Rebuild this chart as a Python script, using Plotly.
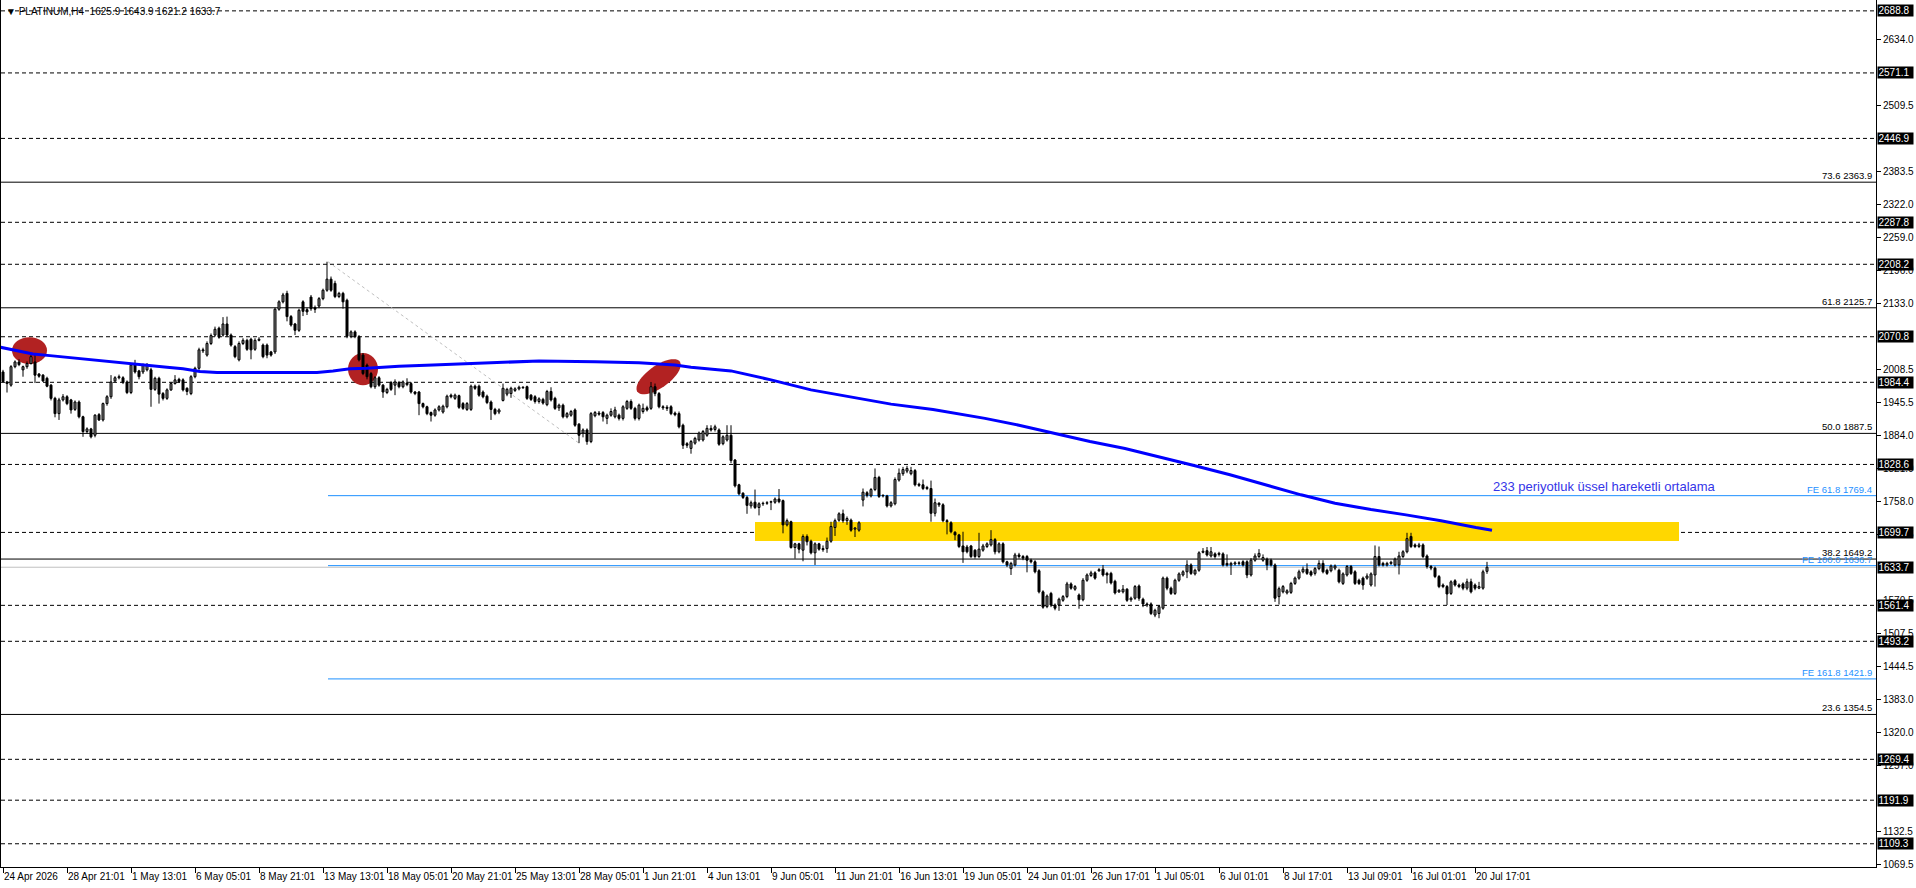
import numpy as np
import plotly.graph_objects as go

# ---------------- data ----------------
symbol = "PLATINUM,H4"
opens = [
2004,1985,1979,2014,2023,2008,2014,2020,2023,2000,1998,1992,1979,1954,1925,1951,1957,1951,1933,1947,
1919,1891,1896,1884,1923,1913,1944,1957,1987,1993,1993,1985,1965,2018,2006,2004,2008,2008,1971,1992,
1963,1954,1970,1982,1990,1989,1973,1963,1995,2011,2046,2036,2058,2074,2087,2074,2095,2074,2052,2027,
2058,2064,2066,2047,2064,2055,2055,2042,2042,2123,2137,2153,2109,2095,2083,2137,2122,2146,2126,2129,
2143,2159,2180,2172,2147,2153,2140,2071,2080,2071,2036,2017,2001,1976,1993,1979,1965,1984,1979,1984,
1976,1983,1982,1966,1966,1944,1938,1927,1922,1932,1928,1938,1960,1954,1959,1944,1933,1933,1977,1977,
1966,1958,1947,1933,1928,1950,1962,1963,1969,1972,1975,1976,1960,1957,1948,1952,1942,1967,1954,1936,
1941,1919,1922,1932,1905,1888,1894,1872,1921,1926,1927,1916,1922,1919,1922,1916,1935,1948,1935,1916,
1929,1936,1935,1976,1963,1938,1937,1938,1926,1925,1903,1868,1859,1869,1875,1875,1884,1897,1895,1894,
1868,1875,1884,1837,1790,1774,1766,1750,1757,1747,1754,1755,1757,1757,1763,1760,1714,1720,1671,1678,
1666,1692,1683,1661,1678,1669,1669,1683,1709,1723,1735,1722,1723,1706,1704,1761,1775,1769,1781,1804,
1770,1769,1750,1754,1799,1811,1816,1811,1817,1791,1790,1785,1783,1736,1755,1752,1722,1718,1700,1695,
1674,1672,1674,1666,1654,1666,1673,1676,1686,1663,1678,1644,1631,1638,1657,1654,1654,1647,1644,1627,
1587,1559,1584,1562,1562,1571,1578,1602,1592,1581,1572,1609,1618,1623,1627,1630,1622,1622,1607,1587,
1587,1592,1572,1575,1598,1573,1564,1564,1543,1546,1556,1613,1594,1584,1609,1619,1625,1638,1621,1628,
1662,1665,1655,1659,1658,1659,1641,1638,1640,1641,1644,1644,1619,1647,1654,1647,1649,1647,1638,1578,
1587,1585,1586,1603,1613,1625,1630,1625,1622,1631,1641,1628,1627,1632,1628,1603,1619,1635,1625,1609,
1613,1613,1600,1619,1654,1641,1638,1641,1638,1638,1654,1663,1692,1676,1673,1676,1655,1635,1632,1616,
1600,1597,1584,1608,1600,1602,1594,1606,1600,1594,1594,1625.9]
highs = [
2008,1987,2017,2026,2028,2016,2024,2037,2040,2002,2000,1995,1981,1957,1955,1962,1960,1953,1950,1950,
1921,1899,1898,1924,1926,1946,1960,1998,1996,1999,1996,1988,2019,2027,2008,2020,2021,2012,1995,1995,
1966,1973,1985,1998,1993,1992,1975,1998,2014,2050,2050,2062,2077,2090,2090,2108,2109,2077,2055,2062,
2068,2067,2069,2068,2070,2058,2058,2044,2126,2140,2154,2158,2112,2097,2124,2140,2126,2150,2130,2146,
2162,2213,2185,2177,2156,2156,2143,2083,2083,2074,2040,2020,2004,1996,1996,1981,1974,1987,1990,1987,
1988,1992,1985,1968,1968,1946,1940,1929,1935,1941,1942,1961,1963,1963,1961,1947,1947,1980,1980,1980,
1969,1961,1950,1936,1935,1982,1974,1976,1975,1978,1977,1978,1962,1960,1956,1955,1970,1975,1957,1944,
1944,1928,1932,1935,1907,1897,1897,1928,1930,1930,1930,1925,1935,1938,1925,1941,1951,1952,1938,1944,
1944,1940,1985,1982,1966,1941,1941,1941,1929,1929,1906,1871,1875,1881,1891,1894,1903,1903,1904,1897,
1884,1903,1903,1839,1792,1776,1769,1760,1781,1757,1758,1759,1760,1766,1782,1762,1726,1722,1680,1680,
1696,1696,1686,1681,1680,1675,1690,1720,1726,1738,1743,1730,1726,1710,1721,1783,1778,1784,1821,1807,
1772,1771,1759,1804,1821,1824,1826,1824,1820,1794,1800,1788,1798,1764,1757,1755,1725,1721,1702,1697,
1701,1676,1676,1668,1699,1678,1681,1704,1689,1681,1681,1646,1644,1661,1661,1657,1657,1650,1647,1630,
1590,1582,1587,1565,1576,1581,1606,1605,1600,1584,1613,1622,1627,1626,1632,1638,1625,1625,1610,1592,
1600,1594,1578,1600,1601,1576,1567,1567,1555,1562,1616,1616,1597,1612,1624,1628,1647,1641,1631,1664,
1670,1672,1672,1662,1663,1662,1658,1644,1645,1645,1647,1647,1651,1660,1668,1658,1652,1650,1641,1597,
1600,1592,1606,1616,1629,1635,1641,1628,1634,1647,1647,1631,1639,1639,1631,1624,1638,1638,1628,1612,
1616,1622,1624,1675,1673,1644,1644,1646,1652,1663,1666,1699,1699,1679,1680,1679,1658,1638,1635,1619,
1603,1600,1609,1611,1603,1605,1612,1612,1603,1606,1629,1643.9]
lows = [
1984,1965,1976,2011,2015,1995,2010,2018,1983,1993,1985,1975,1950,1918,1913,1948,1941,1925,1930,1916,
1881,1887,1878,1880,1911,1910,1940,1953,1984,1990,1981,1962,1962,2001,1990,2000,2005,1938,1968,1944,
1950,1951,1968,1980,1983,1967,1960,1960,1992,2008,2040,2033,2055,2071,2067,2071,2070,2052,2030,2024,
2055,2044,2028,2044,2062,2030,2030,2033,2038,2120,2134,2100,2090,2074,2080,2110,2112,2120,2116,2125,
2140,2156,2156,2144,2144,2124,2068,2068,2068,2024,1998,1990,1973,1972,1976,1955,1962,1968,1960,1973,
1973,1977,1963,1960,1922,1935,1922,1910,1919,1929,1925,1935,1954,1951,1934,1932,1930,1930,1970,1957,
1954,1943,1913,1922,1924,1948,1958,1955,1966,1969,1972,1951,1949,1944,1944,1942,1939,1948,1932,1930,
1916,1916,1919,1900,1869,1880,1866,1869,1918,1921,1910,1905,1919,1916,1912,1912,1932,1932,1912,1912,
1925,1929,1932,1958,1935,1932,1930,1922,1920,1897,1858,1860,1849,1866,1872,1872,1881,1891,1891,1864,
1865,1872,1831,1785,1770,1763,1735,1745,1744,1732,1750,1752,1742,1754,1755,1698,1711,1669,1650,1660,
1645,1675,1658,1638,1665,1663,1661,1680,1693,1720,1718,1714,1701,1691,1701,1749,1766,1766,1778,1765,
1766,1747,1747,1751,1796,1807,1812,1808,1787,1786,1780,1780,1720,1730,1748,1719,1696,1698,1685,1670,
1642,1660,1651,1650,1651,1663,1670,1673,1658,1660,1641,1634,1619,1635,1650,1647,1624,1641,1622,1584,
1555,1556,1558,1552,1551,1568,1575,1591,1589,1555,1569,1606,1615,1610,1625,1616,1603,1601,1582,1585,
1584,1568,1568,1572,1570,1558,1558,1543,1539,1537,1553,1590,1581,1581,1606,1616,1613,1619,1618,1625,
1660,1654,1652,1650,1654,1635,1635,1619,1637,1637,1635,1613,1616,1644,1651,1644,1628,1635,1568,1563,
1584,1582,1583,1600,1610,1622,1619,1616,1618,1628,1622,1619,1624,1628,1603,1600,1616,1619,1600,1600,
1591,1610,1597,1597,1635,1635,1635,1638,1635,1620,1651,1660,1670,1670,1670,1651,1631,1628,1613,1594,
1594,1562,1581,1597,1594,1590,1590,1584,1590,1592,1591,1621.2]
closes = [
1986,1982,2014,2023,2018,2014,2020,2033,1998,1996,1987,1977,1954,1925,1951,1957,1944,1932,1947,1919,
1891,1896,1881,1922,1913,1944,1957,1985,1993,1995,1984,1965,2017,2004,1995,2017,2017,1971,1992,1962,
1954,1970,1982,1989,1986,1970,1967,1995,2011,2046,2044,2058,2073,2085,2070,2095,2074,2055,2033,2058,
2064,2047,2046,2064,2066,2033,2036,2036,2123,2137,2150,2109,2093,2083,2121,2119,2118,2124,2123,2143,
2159,2180,2159,2147,2153,2137,2072,2080,2071,2027,2001,1995,1976,1993,1979,1966,1971,1971,1985,1976,
1985,1980,1966,1963,1944,1938,1925,1922,1932,1938,1939,1958,1957,1960,1937,1935,1944,1977,1973,1960,
1957,1946,1933,1925,1932,1973,1971,1973,1972,1975,1974,1954,1952,1948,1953,1945,1967,1951,1935,1941,
1919,1925,1929,1903,1884,1894,1872,1925,1927,1924,1919,1922,1929,1932,1916,1938,1948,1935,1916,1941,
1935,1932,1976,1963,1938,1936,1935,1925,1923,1900,1865,1865,1872,1878,1888,1891,1897,1894,1900,1867,
1881,1884,1836,1788,1773,1766,1751,1756,1747,1754,1755,1756,1758,1763,1758,1714,1722,1671,1678,1668,
1692,1682,1661,1678,1668,1667,1683,1711,1722,1735,1722,1726,1704,1708,1718,1776,1770,1781,1804,1768,
1769,1750,1756,1800,1812,1819,1821,1817,1790,1789,1783,1783,1736,1756,1752,1722,1720,1701,1695,1673,
1663,1663,1654,1654,1668,1674,1678,1686,1663,1678,1644,1638,1641,1657,1654,1651,1647,1644,1625,1587,
1558,1579,1562,1556,1573,1578,1602,1594,1597,1572,1609,1619,1623,1613,1629,1619,1619,1604,1585,1590,
1592,1571,1575,1597,1575,1564,1562,1546,1552,1559,1613,1594,1584,1609,1621,1625,1638,1622,1628,1661,
1664,1657,1663,1654,1660,1638,1638,1641,1642,1642,1638,1619,1647,1655,1660,1652,1638,1638,1575,1593,
1597,1589,1603,1613,1625,1630,1622,1619,1631,1641,1625,1622,1636,1636,1606,1621,1635,1622,1603,1603,
1600,1617,1621,1654,1638,1638,1641,1643,1649,1655,1663,1688,1673,1673,1676,1654,1635,1632,1616,1597,
1597,1583,1606,1600,1597,1594,1606,1587,1594,1597,1625,1633.7]

date_labels = ["24 Apr 2026", "28 Apr 21:01", "1 May 13:01", "6 May 05:01", "8 May 21:01",
               "13 May 13:01", "18 May 05:01", "20 May 21:01", "25 May 13:01", "28 May 05:01",
               "1 Jun 21:01", "4 Jun 13:01", "9 Jun 05:01", "11 Jun 21:01", "16 Jun 13:01",
               "19 Jun 05:01", "24 Jun 01:01", "26 Jun 17:01", "1 Jul 05:01", "6 Jul 01:01",
               "8 Jul 17:01", "13 Jul 09:01", "16 Jul 01:01", "20 Jul 17:01"]
bars_per_label = 16

price_ticks = [2634.0, 2509.5, 2383.5, 2322.0, 2259.0, 2196.0, 2133.0, 2008.5, 1945.5, 1884.0,
               1821.0, 1758.0, 1696.5, 1570.5, 1507.5, 1444.5, 1383.0, 1320.0, 1257.0, 1132.5, 1069.5]
marked_prices = [2688.8, 2571.1, 2446.9, 2287.8, 2208.2, 2070.8, 1984.4, 1828.6, 1699.7,
                 1633.7, 1561.4, 1493.2, 1269.4, 1191.9, 1109.3]
dashed_levels = [2688.8, 2571.1, 2446.9, 2287.8, 2208.2, 2070.8, 1984.4, 1828.6, 1699.7,
                 1561.4, 1493.2, 1269.4, 1191.9, 1109.3]
fib_levels = [73.6, 61.8, 50.0, 38.2, 23.6]
fib_prices = [2363.9, 2125.7, 1887.5, 1649.2, 1354.5]
fe_levels = [61.8, 100.0, 161.8]
fe_prices = [1769.4, 1636.7, 1421.9]
fe_start_bar = 81.25
current_price = 1633.7

# 233-period EMA (bar index, price)
ema_bar = [-0.75, 3.5, 7.5, 11.75, 16, 20, 24.25, 28.5, 32.5, 36.75, 41, 45, 49.25, 53.5, 57.5,
           66, 74.25, 78.5, 82.5, 86.75, 91, 99, 107.5, 116, 125, 134, 148, 159, 168, 172, 182,
           192, 202, 212, 222, 232.5, 240, 245.5, 254, 263, 271.75, 280.5, 289.25, 298, 306.75,
           315.75, 324.5, 333, 342, 350.75, 359.5, 368.25, 372.25]
ema_val = [2051, 2044, 2038, 2035, 2032, 2028, 2025, 2022, 2019, 2016, 2013, 2010, 2005, 2003, 2003,
           2003, 2003, 2003, 2006, 2010, 2011, 2015, 2017, 2020, 2022.5, 2025, 2023.5, 2021.6, 2017,
           2013, 2006, 1989, 1970, 1956, 1943, 1933, 1924, 1916, 1903, 1888, 1872, 1859, 1843, 1826,
           1809, 1790, 1771, 1755, 1743, 1733, 1722, 1709, 1704]
ema_text = "233 periyotluk üssel hareketli ortalama"
ema_text_pos = (372.0, 1786.0)

zone_bars = (188.0, 419.0)
zone_prices = (1683.5, 1719.5)

trend_bars = (81.25, 144.0)
trend_prices = (2213.0, 1869.0)

ovals = [  # (bar0, bar1, price0, price1)
    (2.25, 11.0, 2019.0, 2070.0),
    (86.25, 93.75, 1979.0, 2040.0),
]
tilted_oval = dict(bar=163.9, price=1995.0, major_px=52, minor_px=22, angle_deg=35.5)

# ---------------- geometry of the frame ----------------
W, H = 1916, 888
ML, MR, MT, MB = 1, 40, 0, 21
PX_PER_BAR = 4.0
X_RANGE = [-0.5, -0.5 + (W - ML - MR) / PX_PER_BAR]
Y_RANGE = [1065.2, 2709.4]
px_per_price = (H - MT - MB) / (Y_RANGE[1] - Y_RANGE[0])

FONT = "Liberation Sans"
n = len(closes)
o = np.array(opens, float); h = np.array(highs, float)
l = np.array(lows, float); c = np.array(closes, float)
xi = np.arange(n)

fig = go.Figure()

# wicks
wx, wy = [], []
for i in range(n):
    wx += [i, i, None]
    wy += [l[i], h[i], None]
fig.add_trace(go.Scatter(x=wx, y=wy, mode="lines", line=dict(color="black", width=1),
                         hoverinfo="skip"))

up = c >= o
dn = ~up
fig.add_trace(go.Bar(x=xi[up], y=(c - o)[up], base=o[up], width=0.5,
                     marker=dict(color="white", line=dict(color="black", width=1)),
                     hoverinfo="skip"))
fig.add_trace(go.Bar(x=xi[dn], y=(o - c)[dn], base=c[dn], width=0.5,
                     marker=dict(color="black", line=dict(color="black", width=1)),
                     hoverinfo="skip"))

# EMA
fig.add_trace(go.Scatter(x=ema_bar, y=ema_val, mode="lines",
                         line=dict(color="#0000ff", width=3), hoverinfo="skip"))

shapes = []
# red ovals (behind)
for b0, b1, p0, p1 in ovals:
    shapes.append(dict(type="circle", xref="x", yref="y", x0=b0, x1=b1, y0=p0, y1=p1,
                       fillcolor="#b22222", line=dict(width=0), layer="below"))
t = np.linspace(0, 2 * np.pi, 48)
ang = np.deg2rad(tilted_oval["angle_deg"])
ex = tilted_oval["major_px"] / 2 * np.cos(t)
ey = tilted_oval["minor_px"] / 2 * np.sin(t)
rx = ex * np.cos(ang) - ey * np.sin(ang)
ry = ex * np.sin(ang) + ey * np.cos(ang)
bx = tilted_oval["bar"] + rx / PX_PER_BAR
by = tilted_oval["price"] + ry / px_per_price
path = "M " + " L ".join(f"{a:.3f},{b:.3f}" for a, b in zip(bx, by)) + " Z"
shapes.append(dict(type="path", xref="x", yref="y", path=path, fillcolor="#b22222",
                   line=dict(width=0), layer="below"))
# yellow zone
shapes.append(dict(type="rect", xref="x", yref="y", x0=zone_bars[0], x1=zone_bars[1],
                   y0=zone_prices[0], y1=zone_prices[1], fillcolor="#ffd700",
                   line=dict(width=0), layer="below"))
# current price line
shapes.append(dict(type="line", xref="paper", yref="y", x0=0, x1=1, y0=current_price,
                   y1=current_price, line=dict(color="#c0c0c0", width=1), layer="below"))
# dashed levels
for p in dashed_levels:
    shapes.append(dict(type="line", xref="paper", yref="y", x0=0, x1=1, y0=p, y1=p,
                       line=dict(color="black", width=1, dash="4px,3px"), layer="below"))
# fib retracement levels
for p in fib_prices:
    shapes.append(dict(type="line", xref="paper", yref="y", x0=0, x1=1, y0=p, y1=p,
                       line=dict(color="black", width=1), layer="below"))
# fib expansion levels
for p in fe_prices:
    shapes.append(dict(type="line", xref="x", yref="y", x0=fe_start_bar, x1=X_RANGE[1],
                       y0=p, y1=p, line=dict(color="#1e90ff", width=1), layer="below"))
# trend line of the fib tool
shapes.append(dict(type="line", xref="x", yref="y", x0=trend_bars[0], x1=trend_bars[1],
                   y0=trend_prices[0], y1=trend_prices[1],
                   line=dict(color="#c0c0c0", width=1, dash="3px,3px"), layer="below"))

ann = []
for lv, p in zip(fib_levels, fib_prices):
    ann.append(dict(xref="paper", yref="y", x=1, y=p, xanchor="right", yanchor="bottom",
                    xshift=-2, yshift=-1, text=f"{lv:.1f} {p:.1f}", showarrow=False,
                    font=dict(family=FONT, size=9.5, color="black")))
for lv, p in zip(fe_levels, fe_prices):
    ann.append(dict(xref="paper", yref="y", x=1, y=p, xanchor="right", yanchor="bottom",
                    xshift=-2, yshift=-1, text=f"FE {lv:.1f} {p:.1f}", showarrow=False,
                    font=dict(family=FONT, size=9.5, color="#1e90ff")))
for p in marked_prices:
    ann.append(dict(xref="paper", yref="y", x=1, y=p, xanchor="left", yanchor="middle",
                    xshift=1, text=f"{p:.1f}", showarrow=False, bgcolor="black",
                    width=34, height=10, borderpad=0.5, align="left",
                    font=dict(family=FONT, size=10, color="white")))
ann.append(dict(xref="x", yref="y", x=ema_text_pos[0], y=ema_text_pos[1], xanchor="left",
                yanchor="middle", text=ema_text, showarrow=False,
                font=dict(family=FONT, size=13, color="#3535e8")))
ann.append(dict(xref="paper", yref="paper", x=0, y=1, xanchor="left", yanchor="middle",
                xshift=3, yshift=-11,
                text=f"▼ {symbol}  {opens[-1]:.1f} {highs[-1]:.1f} {lows[-1]:.1f} {closes[-1]:.1f}",
                showarrow=False, font=dict(family=FONT, size=10, color="black")))

fig.update_layout(
    width=W, height=H, margin=dict(l=ML, r=MR, t=MT, b=MB, autoexpand=False),
    paper_bgcolor="white", plot_bgcolor="white", showlegend=False, barmode="overlay",
    shapes=shapes, annotations=ann, hovermode=False,
    font=dict(family=FONT, size=10, color="black"),
)
fig.update_xaxes(range=X_RANGE, tickmode="array",
                 tickvals=[k * bars_per_label for k in range(len(date_labels))],
                 ticktext=date_labels, ticks="outside", ticklen=5, tickcolor="black",
                 tickangle=0, ticklabelposition="outside right", ticklabelstandoff=0,
                 showgrid=False, zeroline=False,
                 showline=True, linecolor="black", linewidth=1, mirror=True,
                 tickfont=dict(family=FONT, size=10, color="black"))
fig.update_yaxes(range=Y_RANGE, side="right", tickmode="array", tickvals=price_ticks,
                 ticktext=[f"{v:.1f}" for v in price_ticks], ticks="outside", ticklen=4,
                 tickcolor="black", showgrid=False, zeroline=False, showline=True,
                 linecolor="black", linewidth=1, mirror=True,
                 tickfont=dict(family=FONT, size=10, color="black"))

fig.write_html("out.html")
